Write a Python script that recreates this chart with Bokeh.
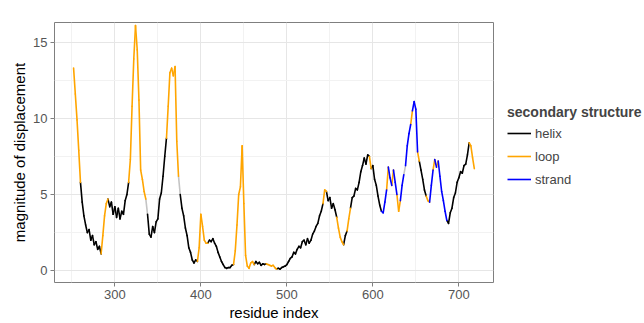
from bokeh.plotting import figure
from bokeh.layouts import row
from bokeh.models import Range1d, FixedTicker, Legend, LegendItem, ColumnDataSource
from bokeh.embed import file_html
from bokeh.resources import INLINE

# ---- data ----
first_residue = 252
residue_step = 2
magnitude = [
    13.3, 11.6, 9.9, 7.9, 5.8, 4.5, 3.6, 3.0, 2.5, 2.7,        # 252-270
    2.0, 2.3, 1.7, 1.9, 1.4, 1.6, 1.1, 2.3, 3.6, 4.4,          # 272-290
    4.7, 4.2, 4.5, 3.7, 4.2, 3.5, 4.1, 3.4, 3.9, 3.7,          # 292-310
    4.6, 5.0, 5.8, 7.3, 10.8, 13.9, 16.1, 14.5, 11.2, 6.6,     # 312-330
    6.0, 5.2, 4.7, 3.7, 2.4, 2.2, 2.9, 2.5, 3.2, 3.4,          # 332-350
    4.7, 5.1, 6.2, 7.5, 8.7, 10.8, 13.0, 13.3, 12.8, 13.4,     # 352-370
    8.5, 6.2, 5.0, 4.1, 3.6, 2.8, 2.3, 1.5, 1.2, 0.7,          # 372-390
    0.5, 0.7, 0.6, 1.5, 3.7, 2.9, 2.0, 1.8, 1.8, 2.0,          # 392-410
    1.9, 2.1, 1.8, 1.6, 1.2, 0.9, 0.6, 0.4, 0.2, 0.15,         # 412-430
    0.2, 0.2, 0.35, 0.4, 1.3, 3.0, 5.0, 5.5, 8.2, 4.4,         # 432-450
    1.0, 0.3, 0.15, 0.5, 0.6, 0.4, 0.6, 0.45, 0.55, 0.35,      # 452-470
    0.45, 0.4, 0.45, 0.4, 0.35, 0.3, 0.35, 0.2, 0.1, 0.15,     # 472-490
    0.1, 0.2, 0.25, 0.3, 0.4, 0.6, 0.8, 0.9, 1.2, 1.1,         # 492-510
    1.4, 1.6, 1.5, 1.9, 2.0, 1.7, 2.1, 1.8, 2.0, 2.4,          # 512-530
    2.6, 2.9, 3.1, 3.6, 3.9, 4.4, 5.3, 5.2, 4.6, 4.8,          # 532-550
    4.1, 4.4, 4.0, 3.5, 2.8, 2.2, 1.9, 1.7, 2.3, 2.6,          # 552-570
    3.4, 4.1, 4.8, 4.9, 5.4, 5.3, 5.8, 6.5, 6.9, 7.4,          # 572-590
    7.0, 7.6, 7.5, 6.7, 6.9, 6.0, 5.6, 4.9, 4.3, 3.9,          # 592-610
    3.8, 4.5, 5.3, 6.8, 6.1, 5.6, 6.6, 5.8, 5.0, 3.9,          # 612-630
    4.6, 5.6, 6.3, 6.9, 8.2, 9.0, 9.6, 10.5, 11.1, 10.6,       # 632-650
    7.8, 7.2, 6.6, 6.0, 5.3, 4.9, 4.6, 4.5, 5.6, 6.6,          # 652-670
    7.3, 6.8, 7.2, 6.2, 5.2, 4.6, 3.9, 3.3, 3.1, 3.8,          # 672-690
    4.1, 4.8, 5.1, 5.8, 6.1, 6.5, 6.4, 6.9, 7.0, 7.6,          # 692-710
    8.4, 8.2, 7.4, 6.7,                                        # 712-718
]
# H = helix, L = loop, S = strand, N = unassigned (grey)
structure_codes = (
    "LLLLHHHHHH" "HHHHHHLLLL" "HHHHHHHHHH" "HHLLLLLLLL" "LLNHHHHHHH"
    "HHHHLLLLLL" "LNHHHHHHHH" "HHLLLLLLHH" "HHHHHHHHHH" "HHHLLLLLLL"
    "LLLLLHHHHH" "HHLLLLLLHH" "HHHHHHHHHH" "HHHHHHHHHH" "HHHHHLLHHH"
    "HHHLLLLHHL" "LHHHHHHHHH" "HHLHHHHHHS" "SSLSSLSSLL" "SSNSSSLSSS"
    "LHHHHLLSSL" "SLSSSSSHHH" "HHHHHHHHHH" "LLLL"
)
structure_names = {"H": "helix", "L": "loop", "S": "strand", "N": "unassigned"}
legend_order = ["helix", "loop", "strand"]
structure_colors = {"helix": "black", "loop": "orange", "strand": "blue", "unassigned": "#c4c4c4"}

x_ticks = [300, 400, 500, 600, 700]
x_minor = [250, 350, 450, 550, 650, 750]
y_ticks = [0, 5, 10, 15]
y_minor = [2.5, 7.5, 12.5]

residue = list(range(first_residue, first_residue + residue_step * len(magnitude), residue_step))
structure = [structure_names[c] for c in structure_codes]

FONT = "Liberation Sans"

p = figure(width=494, height=323, output_backend="svg", toolbar_location=None,
           x_range=Range1d(229.8, 740.3), y_range=Range1d(-0.78, 16.3),
           min_border_left=54, min_border_right=1, min_border_top=22, min_border_bottom=37,
           x_axis_label="residue index", y_axis_label="magnitude of displacement")
p.background_fill_color = "white"
p.border_fill_color = "white"
p.outline_line_color = "#7f7f7f"
p.outline_line_width = 1

sources = {}
renderers = {}
for name in ["unassigned", "helix", "loop", "strand"]:
    idx = [i for i in range(len(magnitude) - 1) if structure[i] == name]
    sources[name] = ColumnDataSource(dict(
        x0=[residue[i] for i in idx], y0=[magnitude[i] for i in idx],
        x1=[residue[i + 1] for i in idx], y1=[magnitude[i + 1] for i in idx]))
    renderers[name] = p.segment(x0="x0", y0="y0", x1="x1", y1="y1", source=sources[name],
                                line_color=structure_colors[name], line_width=1.6,
                                line_cap="round")

p.xaxis.ticker = FixedTicker(ticks=x_ticks, minor_ticks=x_minor)
p.yaxis.ticker = FixedTicker(ticks=y_ticks, minor_ticks=y_minor)
for ax in (p.xaxis, p.yaxis):
    ax.axis_line_color = None
    ax.major_tick_line_color = "#7f7f7f"
    ax.major_tick_out = 4
    ax.major_tick_in = 0
    ax.minor_tick_line_color = None
    ax.major_label_text_font = FONT
    ax.major_label_text_font_size = "13px"
    ax.major_label_text_color = "#555555"
    ax.axis_label_text_font = FONT
    ax.axis_label_text_font_size = "15px"
    ax.axis_label_text_font_style = "normal"
    ax.axis_label_text_color = "black"
    ax.major_label_standoff = 3
    ax.axis_label_standoff = 2

for g in (p.xgrid, p.ygrid):
    g.grid_line_color = "#e6e6e6"
    g.minor_grid_line_color = "#f2f2f2"

# ---- legend panel (separate small figure beside the plot) ----
# The same data sources are reused; the panel's ranges keep them out of view,
# so only the legend keys are drawn here.
lp = figure(width=150, height=323, output_backend="svg", toolbar_location=None,
            x_axis_type=None, y_axis_type=None, min_border=0,
            x_range=Range1d(0, 1), y_range=Range1d(0, 1))
lp.outline_line_color = None
lp.background_fill_color = "white"
lp.border_fill_color = "white"
lp.xgrid.visible = False
lp.ygrid.visible = False
key_renderers = {}
for name in legend_order:
    key_renderers[name] = lp.segment(x0="x0", y0="y0", x1="x1", y1="y1", source=sources[name],
                                     line_color=structure_colors[name], line_width=1.6)

legend = Legend(items=[LegendItem(label=n, renderers=[key_renderers[n]]) for n in legend_order],
                title="secondary structure", location=(13, 92))
legend.title_text_font = FONT
legend.title_text_font_style = "bold"
legend.title_text_font_size = "14px"
legend.title_standoff = 2
legend.label_text_font = FONT
legend.label_text_font_size = "13px"
legend.glyph_width = 24
legend.glyph_height = 22
legend.label_height = 22
legend.label_standoff = 4
legend.spacing = 1
legend.padding = 1
legend.margin = 0
legend.border_line_color = None
legend.background_fill_alpha = 0
lp.add_layout(legend)

layout = row(p, lp)
open("out.html", "w").write(file_html(layout, INLINE))
